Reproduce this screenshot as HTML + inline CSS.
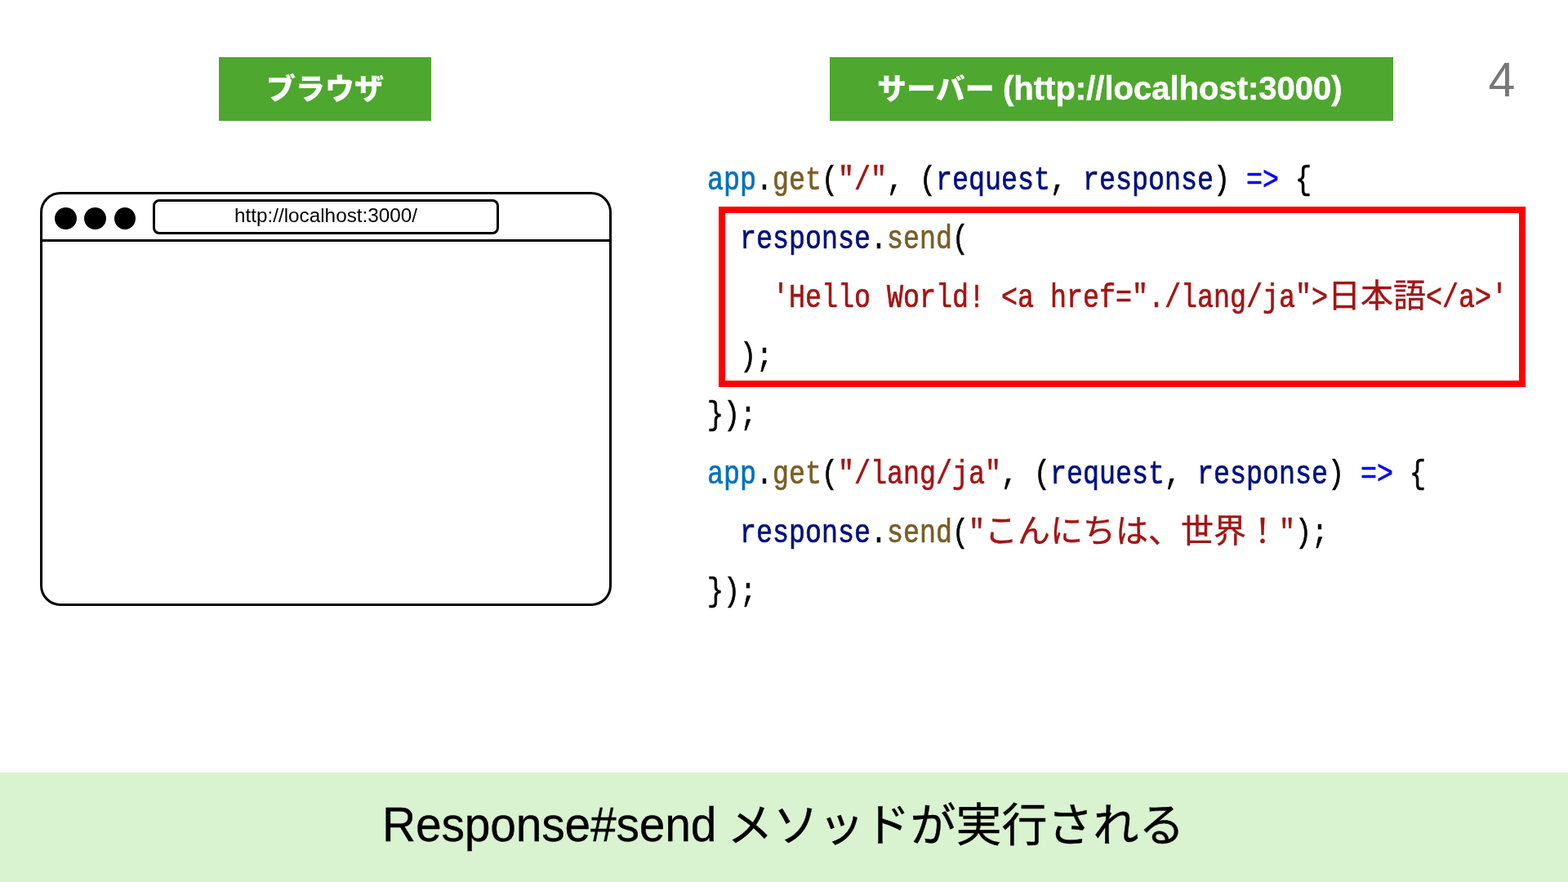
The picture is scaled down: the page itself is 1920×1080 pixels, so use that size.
<!DOCTYPE html>
<html lang="ja">
<head>
<meta charset="utf-8">
<title>Response#send メソッドが実行される</title>
<style>
*{box-sizing:border-box;margin:0;padding:0}
html,body{width:1920px;height:1080px;overflow:hidden;background:#fff}
body{position:relative;font-family:"Liberation Sans","Noto Sans CJK JP",sans-serif;color:#000}
body>*{will-change:transform}
.label{position:absolute;top:70px;height:78px;background:#4ea72e;color:#fff;font-weight:900;font-size:36px;line-height:78px;white-space:pre}
.label span{position:absolute;top:0;white-space:pre}
.label .lat{-webkit-text-stroke:0.5px #fff}
.pageno{position:absolute;left:1800px;top:62px;width:78px;text-align:center;font-size:59px;line-height:72px;color:#787878}
.win{position:absolute;left:49px;top:235px;width:700px;height:507px;border:3px solid #000;border-radius:25px;background:#fff}
.bar{position:absolute;left:49px;top:293px;width:700px;height:3px;background:#000}
.dot{position:absolute;top:254px;width:27px;height:27px;border-radius:50%;background:#000}
.url{position:absolute;left:187px;top:244px;width:424px;height:43px;border:3px solid #000;border-radius:8px;background:#fff;text-align:center;font-size:24.3px;line-height:34px;white-space:pre}
.code{position:absolute;left:866px;top:0;font-family:"Liberation Mono","Noto Sans CJK JP",monospace;font-size:40px;line-height:72px;color:#000}
.ln{position:absolute;left:0;height:72px;width:1040px}
.sx{position:absolute;top:0;white-space:pre;transform-origin:0 46px;transform:scale(0.8332,1.03);-webkit-text-stroke:0.7px currentColor}
.cj{position:absolute;top:0;white-space:pre;-webkit-text-stroke:0.4px currentColor}
.b{color:#0070c1}.f{color:#795e26}.s{color:#a31515}.v{color:#001080}.k{color:#0000ff}
.hl{position:absolute;left:880px;top:253px;width:988px;height:221px;border:8px solid #ff0000}
.foot{position:absolute;left:0;top:946px;width:1920px;height:134px;background:#d9f2d0}
.foot span{position:absolute;top:0;white-space:pre;line-height:134px;font-size:56px}
.foot .fl{-webkit-text-stroke:0.3px #000;letter-spacing:-0.2px;transform-origin:0 87.3px;transform:scaleY(1.03)}
.foot .fj{-webkit-text-stroke:0.4px #000}
</style>
</head>
<body>

<div class="label" style="left:268px;width:260px"><span style="left:58px;top:1px">ブラウザ</span></div>
<div class="label" style="left:1016px;width:690px"><span style="left:58px;top:1px">サーバー </span><span class="lat" style="left:212px;top:-1.5px;font-size:40px">(http://localhost:3000)</span></div>
<div class="pageno">4</div>

<div class="win"></div>
<div class="bar"></div>
<div class="dot" style="left:67px"></div>
<div class="dot" style="left:103px"></div>
<div class="dot" style="left:140px;width:26px"></div>
<div class="url">http://localhost:3000/</div>

<div class="code">
<div class="ln" style="top:186px"><span class="sx"><span class="b">app</span>.<span class="f">get</span>(<span class="s">"/"</span>, (<span class="v">request</span>, <span class="v">response</span>) <span class="k">=&gt;</span> {</span></div>
<div class="ln" style="top:258px"><span class="sx" style="left:40px"><span class="v">response</span>.<span class="f">send</span>(</span></div>
<div class="ln" style="top:330px"><span class="sx s" style="left:80px">'Hello World! &lt;a href="./lang/ja"&gt;</span><span class="cj s" style="left:760px">日本語</span><span class="sx s" style="left:880px">&lt;/a&gt;'</span></div>
<div class="ln" style="top:402px"><span class="sx" style="left:40px">);</span></div>
<div class="ln" style="top:474px"><span class="sx">});</span></div>
<div class="ln" style="top:546px"><span class="sx"><span class="b">app</span>.<span class="f">get</span>(<span class="s">"/lang/ja"</span>, (<span class="v">request</span>, <span class="v">response</span>) <span class="k">=&gt;</span> {</span></div>
<div class="ln" style="top:618px"><span class="sx" style="left:40px"><span class="v">response</span>.<span class="f">send</span>(<span class="s">"</span></span><span class="cj s" style="left:340px">こんにちは、世界！</span><span class="sx" style="left:700px"><span class="s">"</span>);</span></div>
<div class="ln" style="top:690px"><span class="sx">});</span></div>
</div>

<div class="hl"></div>

<div class="foot"><span class="fl" style="left:468px;top:-3.3px;font-size:57px">Response#send </span><span class="fj" style="left:890.5px;top:-2.5px">メソッドが実行される</span></div>

</body>
</html>
